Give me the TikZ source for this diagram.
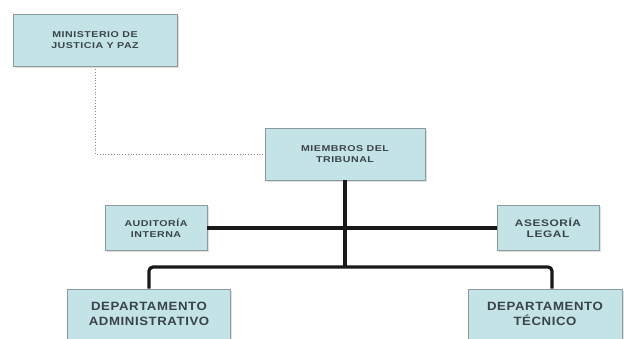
\documentclass[tikz,border=0pt]{standalone}
\usepackage{fontspec}
\setmainfont{Liberation Sans}
\newfontfamily\boxfont[LetterSpace=6,FakeStretch=1.25]{Liberation Sans Bold}
\newfontfamily\bigboxfont[LetterSpace=5,FakeStretch=1.1]{Liberation Sans Bold}
\usetikzlibrary{shadows}
\definecolor{boxfill}{HTML}{C3E3E6}
\definecolor{boxline}{HTML}{8C9A9C}
\definecolor{txt}{HTML}{3A4448}
\begin{document}
\begin{tikzpicture}[x=1pt,y=-1pt,
  orgbox/.style={draw=boxline, line width=0.8pt, fill=boxfill, align=center, text=txt,
    inner sep=0pt, drop shadow={shadow xshift=1.5pt, shadow yshift=-1.5pt, fill=black!25}},
  smalltxt/.style={font=\boxfont\fontsize{8.5}{10.5}\selectfont},
  bigtxt/.style={font=\bigboxfont\fontsize{12}{15}\selectfont},
  conn/.style={line width=3.2pt, black!90}]
\useasboundingbox (0,0) rectangle (624,338);
\node[orgbox, smalltxt, minimum width=164pt, minimum height=52pt] (min) at (95,40) {MINISTERIO DE\\JUSTICIA Y PAZ};
\node[orgbox, smalltxt, minimum width=160pt, minimum height=52pt] (mie) at (345,154) {MIEMBROS DEL\\TRIBUNAL};
\node[orgbox, smalltxt, minimum width=102pt, minimum height=45pt] (aud) at (156,228) {AUDITORÍA\\INTERNA};
\node[orgbox, smalltxt, font=\boxfont\fontsize{9.5}{11.5}\selectfont, minimum width=102pt, minimum height=45pt] (ase) at (548,228) {ASESORÍA\\LEGAL};
\node[orgbox, bigtxt, minimum width=163pt, minimum height=50pt] (adm) at (149,314) {DEPARTAMENTO\\ADMINISTRATIVO};
\node[orgbox, bigtxt, minimum width=154pt, minimum height=50pt] (tec) at (545,314) {DEPARTAMENTO\\TÉCNICO};
\coordinate (j) at (345,267);
\draw[dotted, line width=0.8pt, black!45] (min.south) |- (mie.west);
\draw[conn] (mie.south) -- (j);
\draw[conn] (aud.east) -- (ase.west);
\draw[conn, rounded corners=4pt] (adm.north) |- (j) -| ([xshift=7pt]tec.north);
\end{tikzpicture}
\end{document}
